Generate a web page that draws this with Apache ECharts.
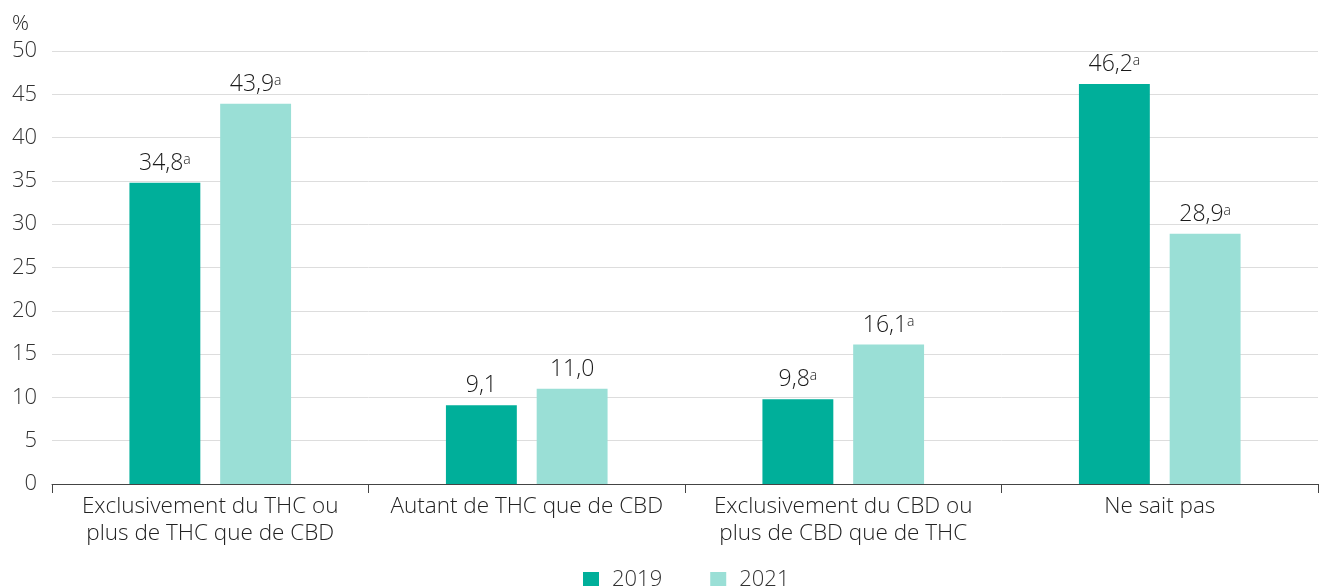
<!DOCTYPE html>
<html>
<head>
<meta charset="utf-8">
<title>THC / CBD</title>
<script src="https://cdn.jsdelivr.net/npm/echarts@6/dist/echarts.min.js"></script>
<style>
  html, body { margin: 0; padding: 0; background: #fff; }
  #chart { width: 1320px; height: 586px; }
</style>
</head>
<body>
<div id="chart"></div>
<script>
// categories and values
var categories = [
  'Exclusivement du THC ou\nplus de THC que de CBD',
  'Autant de THC que de CBD',
  'Exclusivement du CBD ou\nplus de CBD que de THC',
  'Ne sait pas'
];
var values2019 = [34.8, 9.1, 9.8, 46.2];
var values2021 = [43.9, 11.0, 16.1, 28.9];
// superscript note on each label ('' = none)
var notes2019 = ['a', '', 'a', 'a'];
var notes2021 = ['a', '', 'a', 'a'];
var yTicks = [0, 5, 10, 15, 20, 25, 30, 35, 40, 45, 50];

var font = '"Open Sans", "Noto Sans", sans-serif';
var weight = 300;

function makeLabel(notes) {
  return {
    show: true,
    position: 'top',
    distance: 8,
    formatter: function (p) {
      var txt = p.value.toFixed(1).replace('.', ',');
      var n = notes[p.dataIndex];
      return n ? '{v|' + txt + '}{s|' + n + '}' : '{v|' + txt + '}';
    },
    rich: {
      v: { fontFamily: font, fontWeight: weight, fontSize: 23, color: '#1a1a1a' },
      s: { fontFamily: font, fontWeight: weight, fontSize: 14, color: '#1a1a1a', padding: [0, 0, 7, 0] }
    }
  };
}

var chart = echarts.init(document.getElementById('chart'));
chart.setOption({
  animation: false,
  textStyle: { fontFamily: font, fontWeight: weight },
  grid: { left: 52, right: 2, top: 51, bottom: 102, containLabel: false },
  legend: {
    top: 564,
    left: 578,
    itemWidth: 16,
    itemHeight: 16,
    itemGap: 48,
    icon: 'rect',
    textStyle: { fontFamily: font, fontWeight: weight, fontSize: 22, color: '#333', padding: [0, 0, 0, 8] },
    data: ['2019', '2021']
  },
  xAxis: {
    type: 'category',
    data: categories,
    axisLine: { lineStyle: { color: '#444', width: 1 } },
    axisTick: { show: true, length: 9, lineStyle: { color: '#444' } },
    axisLabel: {
      fontFamily: font, fontWeight: weight, fontSize: 22.5, color: '#222', lineHeight: 27, margin: 9,
      interval: 0
    }
  },
  yAxis: {
    type: 'value',
    min: yTicks[0],
    max: yTicks[yTicks.length - 1],
    interval: 5,
    name: '%',
    nameLocation: 'end',
    nameGap: 16,
    nameTextStyle: { fontFamily: font, fontWeight: weight, fontSize: 21, color: '#222', align: 'left', padding: [0, 0, 0, -40] },
    axisLine: { show: false },
    axisTick: { show: false },
    axisLabel: { fontFamily: font, fontWeight: weight, fontSize: 22, color: '#333', margin: 15 },
    splitLine: { lineStyle: { color: '#dddddd', width: 1 } }
  },
  series: [
    {
      name: '2019',
      type: 'bar',
      data: values2019,
      barWidth: '22.4%',
      barGap: '28%',
      itemStyle: { color: '#00af9a' },
      label: makeLabel(notes2019)
    },
    {
      name: '2021',
      type: 'bar',
      data: values2021,
      barWidth: '22.4%',
      barGap: '28%',
      itemStyle: { color: '#9adfd6' },
      label: makeLabel(notes2021)
    }
  ]
});
</script>
</body>
</html>
